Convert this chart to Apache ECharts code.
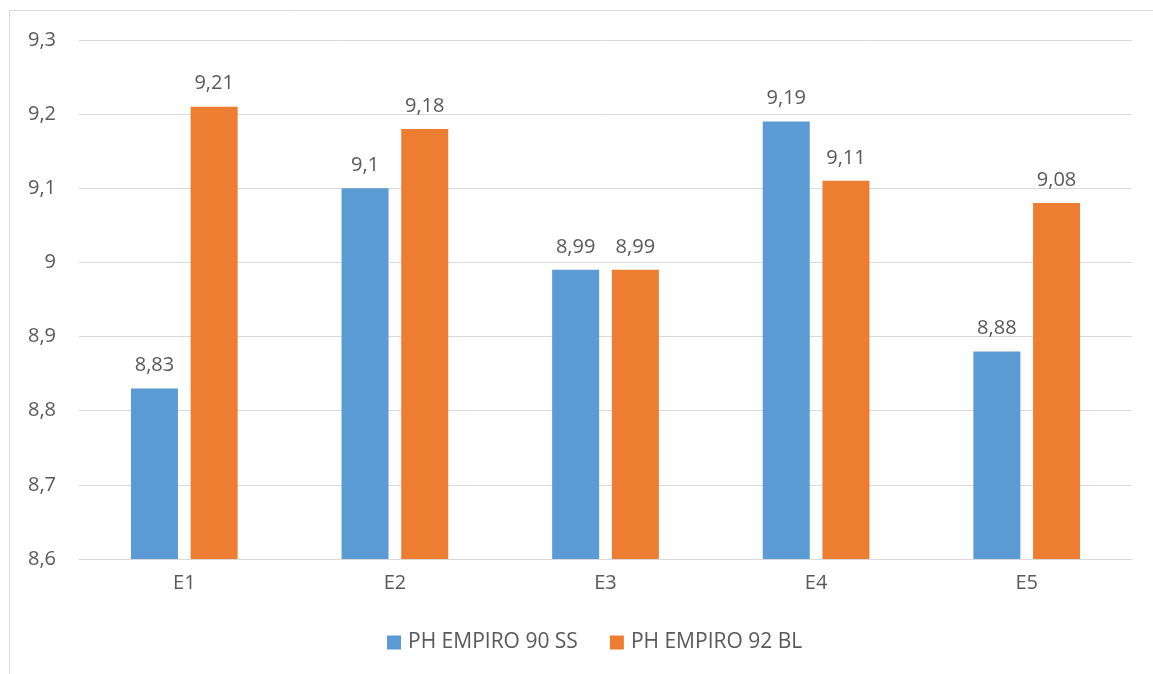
<!DOCTYPE html>
<html>
<head>
<meta charset="utf-8">
<style>
  html, body { margin: 0; padding: 0; background: #fff; }
  #chart { width: 1153px; height: 674px; }
</style>
<script src="https://cdn.jsdelivr.net/npm/echarts@6/dist/echarts.min.js"></script>
</head>
<body>
<div id="chart"></div>
<script>
// Categories and pH readings for the two products
const categories = ['E1', 'E2', 'E3', 'E4', 'E5'];
const seriesNames = ['PH EMPIRO 90 SS', 'PH EMPIRO 92 BL'];
const ph90ss = [8.83, 9.1, 8.99, 9.19, 8.88];
const ph92bl = [9.21, 9.18, 8.99, 9.11, 9.08];

const textColor = '#595959';
const gridColor = '#D9D9D9';
const fontFamily = '"Open Sans", "Liberation Sans", sans-serif';
const fontSize = 20;

// Decimal comma formatting, no trailing zeros
const comma = v => String(Number(Number(v).toFixed(2))).replace('.', ',');

const chart = echarts.init(document.getElementById('chart'), null, { renderer: 'canvas' });

const barLabel = {
  show: true,
  position: 'top',
  distance: 13,
  color: textColor,
  fontSize: fontSize,
  fontFamily: fontFamily,
  formatter: p => comma(p.value)
};

chart.setOption({
  backgroundColor: '#fff',
  animation: false,
  graphic: [{
    type: 'rect',
    shape: { x: 9.5, y: 10.5, width: 1300, height: 800 },
    style: { fill: 'none', stroke: gridColor, lineWidth: 1 },
    silent: true
  }],
  grid: { left: 79, right: 21, top: 40, bottom: 115, containLabel: false },
  legend: {
    bottom: 16,
    left: 382,
    itemWidth: 14,
    itemHeight: 14,
    itemGap: 32,
    icon: 'rect',
    textStyle: { color: textColor, fontSize: 21, fontFamily: fontFamily, padding: [0, 0, 0, 2] },
    data: seriesNames
  },
  xAxis: {
    type: 'category',
    data: categories,
    axisTick: { show: false },
    axisLine: { lineStyle: { color: gridColor, width: 1 } },
    axisLabel: { color: textColor, fontSize: fontSize, fontFamily: fontFamily, margin: 14 }
  },
  yAxis: {
    type: 'value',
    min: 8.6,
    max: 9.3,
    interval: 0.1,
    axisLine: { show: false },
    axisTick: { show: false },
    splitLine: { lineStyle: { color: gridColor, width: 1 } },
    axisLabel: {
      color: textColor, fontSize: fontSize, fontFamily: fontFamily, margin: 23,
      formatter: v => comma(v)
    }
  },
  series: [
    {
      name: seriesNames[0],
      type: 'bar',
      data: ph90ss,
      barWidth: 47,
      barGap: '27%',
      itemStyle: { color: '#5B9BD5' },
      label: barLabel
    },
    {
      name: seriesNames[1],
      type: 'bar',
      data: ph92bl,
      barWidth: 47,
      barGap: '27%',
      itemStyle: { color: '#ED7D31' },
      label: barLabel
    }
  ]
});
</script>
</body>
</html>
